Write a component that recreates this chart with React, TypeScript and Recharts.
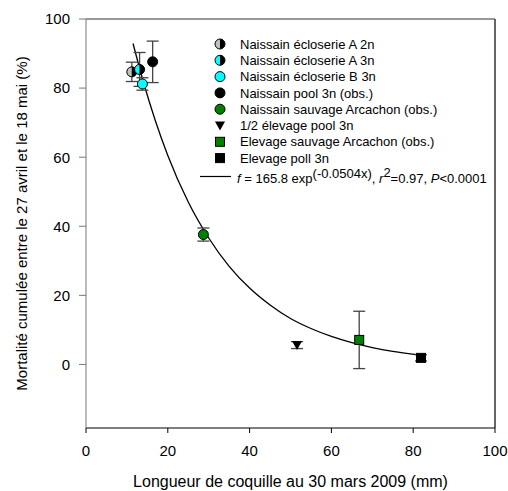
import React from 'react';
import { ComposedChart, Scatter, Line, XAxis, YAxis, ErrorBar, Legend, Label, ReferenceLine } from 'recharts';

// one entry per group of oysters
const seriesNames = [
  'Naissain écloserie A 2n',
  'Naissain écloserie A 3n',
  'Naissain écloserie B 3n',
  'Naissain pool 3n (obs.)',
  'Naissain sauvage Arcachon (obs.)',
  '1/2 élevage pool 3n',
  'Elevage sauvage Arcachon (obs.)',
  'Elevage poll 3n',
];
const markerKinds = ['half-gray', 'half-cyan', 'cyan', 'black', 'green', 'triangle', 'green-square', 'black-square'];
const lengthMm = [11.2, 13.1, 13.8, 16.3, 28.7, 51.6, 66.8, 81.9];
const mortality = [84.7, 85.4, 81.2, 87.6, 37.6, 5.6, 7.1, 1.9];
const mortalityErr = [2.8, 4.9, 1.8, 6.0, 1.9, 1.0, 8.3, 0.9];

// fitted curve
const fitLength = [11.5, 14, 17, 20, 25, 30, 35, 40, 45, 50, 55, 60, 65, 70, 75, 82];
const fitMortality = [92.9, 81.9, 70.4, 60.5, 47.0, 36.6, 28.4, 22.1, 17.2, 13.3, 10.4, 8.1, 6.3, 4.9, 3.8, 2.7];

const xTicks = [0, 20, 40, 60, 80, 100];
const yTicks = [0, 20, 40, 60, 80, 100];

const FONT = '"Liberation Sans", Arial, sans-serif';

function Marker({ kind, cx, cy, r = 5 }: { kind: string; cx: number; cy: number; r?: number }) {
  if (cx == null || cy == null) return null;
  switch (kind) {
    case 'half-gray':
    case 'half-cyan': {
      const left = kind === 'half-gray' ? '#c0c0c0' : '#00ffff';
      return (
        <g>
          <path d={`M${cx},${cy - r} A${r},${r} 0 0 0 ${cx},${cy + r} Z`} fill={left} />
          <path d={`M${cx},${cy - r} A${r},${r} 0 0 1 ${cx},${cy + r} Z`} fill="#000" />
          <circle cx={cx} cy={cy} r={r} fill="none" stroke="#000" strokeWidth={1} />
        </g>
      );
    }
    case 'cyan':
      return <circle cx={cx} cy={cy} r={r} fill="#00ffff" stroke="#000" strokeWidth={1} />;
    case 'black':
      return <circle cx={cx} cy={cy} r={r} fill="#000" stroke="#000" strokeWidth={1} />;
    case 'green':
      return <circle cx={cx} cy={cy} r={r} fill="#008000" stroke="#000" strokeWidth={1} />;
    case 'triangle':
      return <polygon points={`${cx - r},${cy - r * 0.8} ${cx + r},${cy - r * 0.8} ${cx},${cy + r}`} fill="#000" />;
    case 'green-square':
      return <rect x={cx - r + 0.5} y={cy - r + 0.5} width={2 * r - 1} height={2 * r - 1} fill="#008000" stroke="#000" strokeWidth={1} />;
    default:
      return <rect x={cx - r + 0.5} y={cy - r + 0.5} width={2 * r - 1} height={2 * r - 1} fill="#000" stroke="#000" strokeWidth={1} />;
  }
}

const ROW = 16.3;
const LEGEND_FS = 13;
const FIT_ROW_Y = 143.5;

const renderLegend = () => (
  <svg width={300} height={160} style={{ fontFamily: FONT, overflow: 'visible' }}>
    {seriesNames.map((name, i) => (
      <g key={name}>
        <Marker kind={markerKinds[i]} cx={20} cy={9 + i * ROW} r={5} />
        <text x={40} y={9 + i * ROW} dy="0.36em" fontSize={LEGEND_FS} fill="#000">
          {name}
        </text>
      </g>
    ))}
    <line x1={0} x2={31} y1={FIT_ROW_Y - 2} y2={FIT_ROW_Y - 2} stroke="#000" strokeWidth={1.2} />
    <text x={37} y={FIT_ROW_Y} dy="0.36em" fontSize={LEGEND_FS} fill="#000">
      <tspan fontStyle="italic">f</tspan>
      <tspan> = 165.8 exp</tspan>
      <tspan dy={-5}>(-0.0504x)</tspan>
      <tspan dy={5}>, </tspan>
      <tspan fontStyle="italic">r</tspan>
      <tspan dy={-6}>2</tspan>
      <tspan dy={6}>=0.97, </tspan>
      <tspan fontStyle="italic">P</tspan>
      <tspan>&lt;0.0001</tspan>
    </text>
  </svg>
);

const renderYTitle = (props: any) => {
  const vb = props.viewBox || {};
  const cy = (vb.y ?? 19) + (vb.height ?? 409) / 2;
  return (
    <text transform={`translate(27,${cy}) rotate(-90)`} textAnchor="middle" fontSize={15} fill="#000" style={{ fontFamily: FONT }}>
      Mortalité cumulée entre le 27 avril et le 18 mai (%)
    </text>
  );
};

export default function App() {
  const fitData = fitLength.map((x, i) => ({ x, y: fitMortality[i] }));

  return (
    <div style={{ position: 'absolute', left: 0, top: 0, fontFamily: FONT }}>
      <ComposedChart width={508} height={491} margin={{ top: 19, right: 13, bottom: 0, left: 0 }} style={{ fontFamily: FONT }}>
        <XAxis
          dataKey="x"
          type="number"
          domain={[0, 100]}
          ticks={xTicks}
          height={63}
          stroke="#000"
          tickSize={5}
          tickMargin={12}
          tick={{ fill: '#000', fontSize: 15 }}
          allowDataOverflow
        >
          <Label value="Longueur de coquille au 30 mars 2009 (mm)" position="insideBottom" offset={4} fontSize={16} fill="#000" />
        </XAxis>
        <YAxis
          dataKey="y"
          type="number"
          domain={[-18.4, 100]}
          ticks={yTicks}
          width={86}
          stroke="#777"
          tickSize={7}
          tickMargin={9}
          tick={{ fill: '#000', fontSize: 15 }}
          allowDataOverflow
        >
          <Label content={renderYTitle} />
        </YAxis>
        {/* frame on top and right */}
        <ReferenceLine y={100} stroke="#777" strokeWidth={1.5} />
        <ReferenceLine x={100} stroke="#333" strokeWidth={1.5} />
        <Line data={fitData} dataKey="y" type="monotone" stroke="#000" strokeWidth={1.3} dot={false} isAnimationActive={false} legendType="none" />
        {seriesNames.map((name, i) => (
          <Scatter
            key={name}
            name={name}
            data={[{ x: lengthMm[i], y: mortality[i], err: mortalityErr[i] }]}
            isAnimationActive={false}
            shape={(p: any) => <Marker kind={markerKinds[i]} cx={p.cx} cy={p.cy} />}
          >
            <ErrorBar dataKey="err" direction="y" width={6} stroke="#444" strokeWidth={1.3} />
          </Scatter>
        ))}
        <Legend
          layout="vertical"
          align="center"
          verticalAlign="middle"
          content={renderLegend}
          wrapperStyle={{ position: 'absolute', left: 200, top: 35, width: 300, height: 160 }}
        />
      </ComposedChart>
    </div>
  );
}
